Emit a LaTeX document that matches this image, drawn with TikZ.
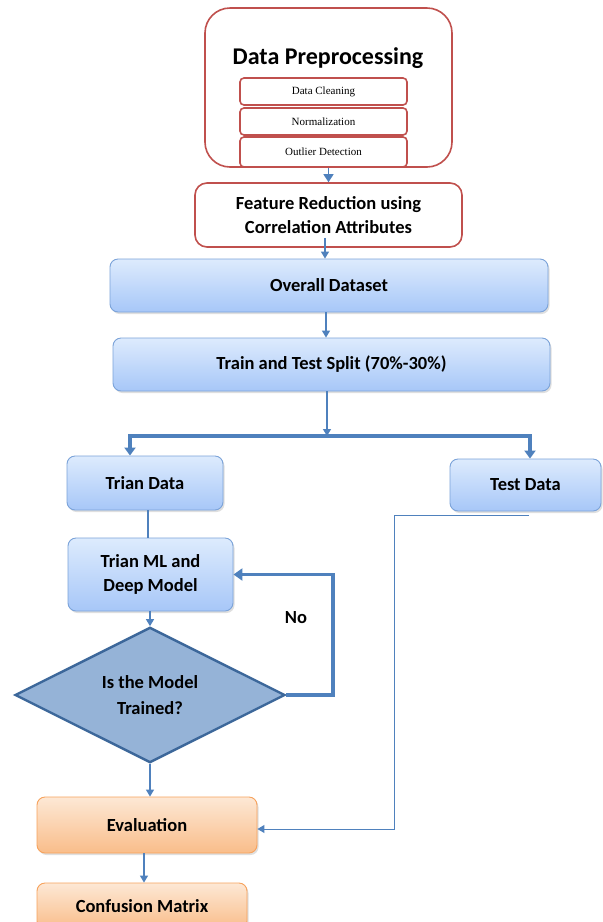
\documentclass[tikz,border=0pt]{standalone}
\usepackage{fontspec}
\setmainfont{Carlito}
\newfontfamily\smallserif{Liberation Serif}
\usetikzlibrary{arrows.meta,shapes.geometric,shadows}

\definecolor{flowblue}{HTML}{4F81BD}
\definecolor{boxedge}{HTML}{7BA3D9}
\definecolor{boxtop}{HTML}{DDEBFD}
\definecolor{boxbot}{HTML}{A7C7F8}
\definecolor{prered}{HTML}{C0504D}
\definecolor{oredge}{HTML}{F7A25C}
\definecolor{ortop}{HTML}{FDE8D5}
\definecolor{orbot}{HTML}{F9BD8A}
\definecolor{diafill}{HTML}{95B3D7}
\definecolor{diaedge}{HTML}{3C679A}

\tikzset{
  lbl/.style={font=\fontsize{18.5}{24.5}\selectfont\bfseries, align=center, text=black},
  bluebox/.style={lbl, draw=boxedge, line width=0.9pt, rounded corners=8pt,
    top color=boxtop, bottom color=boxbot, inner sep=0pt,
    drop shadow={shadow xshift=1.5pt, shadow yshift=-2pt, opacity=0.25}},
  orangebox/.style={lbl, draw=oredge, line width=0.9pt, rounded corners=8pt,
    top color=ortop, bottom color=orbot, inner sep=0pt,
    drop shadow={shadow xshift=1.5pt, shadow yshift=-2pt, opacity=0.25}},
  redbox/.style={draw=prered, line width=1.6pt, fill=white, inner sep=0pt},
  subbox/.style={redbox, rounded corners=4pt, minimum width=167pt,
    font=\smallserif\fontsize{11}{13}\selectfont},
  flow/.style={draw=flowblue, line width=1.3pt, -{Triangle[length=7pt,width=8pt]}},
  thinflow/.style={draw=flowblue, line width=1pt, -{Triangle[length=7pt,width=8pt]}},
  heavy/.style={draw=flowblue, line width=3.5pt},
}

\begin{document}
\begin{tikzpicture}[x=1pt, y=-1pt]
\path[use as bounding box, clip] (0,0) rectangle (603,922);
\fill[white] (0,0) rectangle (603,922);

% preprocessing block
\node[redbox, rounded corners=25pt, minimum width=247pt, minimum height=159pt] (prep) at (328.5,87.5) {};
\node[font=\fontsize{24}{28}\selectfont\bfseries] (preptitle) at (328,58) {Data Preprocessing};
\node[subbox, minimum height=27pt] (clean) at (323.5,91.5) {Data Cleaning};
\node[subbox, minimum height=27pt] (norm) at (323.5,121.5) {Normalization};
\node[subbox, minimum height=30pt] (outl) at (323.5,152) {Outlier Detection};

\node[redbox, rounded corners=12pt, lbl, minimum width=267pt, minimum height=64pt] (feat) at (328.5,215)
  {Feature Reduction using\\Correlation Attributes};
\draw[flow, -{Triangle[length=8pt,width=10pt]}] (prep.south -| feat.north) -- (feat.north);

% dataset and split
\coordinate (c325) at (325,0);
\coordinate (c326) at (326,0);
\node[bluebox, minimum width=438pt, minimum height=53pt] (overall) at (329,285.5) {Overall Dataset};
\node[bluebox, minimum width=437pt, minimum height=53pt] (split) at (331.5,364.5) {Train and Test Split (70\%-30\%)};
\draw[flow] ([yshift=10pt]feat.south -| c325) -- (overall.north -| c325);
\draw[flow] (overall.south -| c326) -- (split.north -| c326);

% branches
\node[bluebox, minimum width=156pt, minimum height=54pt] (train) at (145,483) {Trian Data};
\node[bluebox, minimum width=151pt, minimum height=52pt] (test) at (525.5,485) {Test Data};
\coordinate (bl) at (130,436);
\coordinate (brr) at (530,436);
\coordinate (bmid) at (327,436);
\draw[flow] (split.south -| bmid) -- (bmid);
\draw[heavy, {Triangle[length=8pt,width=11pt]}-{Triangle[length=8pt,width=11pt]}]
  (bl |- train.north) -- (bl) -- (brr) -- (brr |- test.north);

% training loop
\coordinate (c148) at (148,0);
\node[bluebox, minimum width=165pt, minimum height=73pt] (trainml) at (150.5,574.5) {Trian ML and\\Deep Model};
\draw[draw=flowblue, line width=1.3pt] (train.south -| c148) -- (trainml.north -| c148);

\node[diamond, draw=diaedge, line width=2.4pt, fill=diafill, minimum width=270pt, minimum height=122pt,
  inner sep=0pt, lbl, font=\fontsize{18.5}{26}\selectfont\bfseries] (dia) at (150,695) {Is the Model\\Trained?};
\draw[flow] (trainml.south -| dia.north) -- (dia.north);

\coordinate (loop) at (333,574.5);
\draw[heavy, -{Triangle[length=9pt,width=12pt]}] (dia.east) -| (loop) -- (trainml.east);
\node[lbl] (no) at (296,618) {No};

% evaluation
\coordinate (c144) at (144,0);
\node[orangebox, minimum width=220pt, minimum height=56pt] (eval) at (147,825) {Evaluation};
\node[orangebox, minimum width=210pt, minimum height=46pt] (cm) at (142,906) {Confusion Matrix};
\draw[flow] (dia.south) -- (dia.south |- eval.north);
\draw[flow] (eval.south -| c144) -- (cm.north -| c144);

% test data path
\coordinate (tstart) at (529,515);
\coordinate (tdown) at (394,515);
\coordinate (tcorner) at (394,829);
\draw[thinflow] (tstart) -- (tdown) -- (tcorner) -- (tcorner -| eval.east);
\end{tikzpicture}
\end{document}
